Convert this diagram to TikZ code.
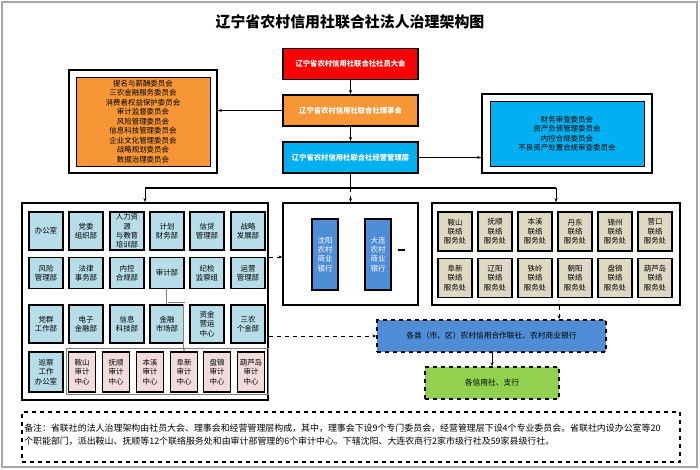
\documentclass[tikz,border=0pt]{standalone}
\usepackage{fontspec}
\setmainfont{Noto Sans CJK SC}
\usetikzlibrary{arrows.meta}
\definecolor{cRed}{RGB}{255,0,0}
\definecolor{cOrange}{RGB}{247,150,54}
\definecolor{cSky}{RGB}{0,176,240}
\definecolor{cDept}{RGB}{183,222,232}
\definecolor{cPink}{RGB}{242,220,219}
\definecolor{cBeige}{RGB}{221,217,195}
\definecolor{cBank}{RGB}{79,141,214}
\definecolor{cGreen}{RGB}{146,208,80}
\tikzset{
  topbox/.style={draw, line width=1.2pt, minimum width=101pt, minimum height=23.5pt, text=white, font=\fontsize{5.5}{6.5}\selectfont\bfseries},
  frame/.style={draw, line width=1.2pt, fill=white},
  dept/.style={draw, line width=1.2pt, fill=cDept, minimum width=25.5pt, inner sep=0pt, align=center, font=\fontsize{5.6}{7}\selectfont},
  audc/.style={draw, line width=0.8pt, fill=cPink, minimum width=20pt, minimum height=30pt, inner sep=0pt, align=center, font=\fontsize{5.6}{7}\selectfont},
  office/.style={draw, line width=1.2pt, fill=cBeige, minimum width=25.5pt, minimum height=29pt, inner sep=0pt, align=center, font=\fontsize{5.6}{7}\selectfont},
  bank/.style={draw, line width=1.2pt, fill=cBank, minimum width=19.5pt, minimum height=53pt, text=white, align=center, inner sep=0pt, font=\fontsize{5.6}{7}\selectfont},
  arr/.style={-{Stealth[length=3pt]}, line width=0.5pt},
  darr/.style={-{Stealth[length=3pt]}, line width=0.5pt, dashed},
}
\begin{document}
\begin{tikzpicture}[x=0.75pt,y=-0.75pt]
\useasboundingbox (0,0) rectangle (700,470);
\draw[gray!70, line width=1.5pt] (2,2) rectangle (697,467);

% title
\node (title) at (350,22) {\fontsize{11.2}{13}\selectfont\bfseries 辽宁省农村信用社联合社法人治理架构图};

% governance chain
\node[topbox, fill=cRed] (meet) at (350.5,64) {辽宁省农村信用社联合社社员大会};
\node[topbox, fill=cOrange] (board) at (350.5,110.5) {辽宁省农村信用社联合社理事会};
\node[topbox, fill=cSky] (mgmt) at (350.5,157.5) {辽宁省农村信用社联合社经营管理层};
\draw[arr] (meet) -- (board);
\draw[arr] (board) -- (mgmt);

% committees
\node[frame, minimum width=111pt, minimum height=77pt] (cmtframe) at (143,121.5) {};
\node[draw, fill=cOrange, minimum width=100.5pt, minimum height=67pt, align=center, inner sep=0pt,
  font=\fontsize{5.6}{7.1}\selectfont] (cmt) at (143,121.5)
  {提名与薪酬委员会\\三农金融服务委员会\\消费者权益保护委员会\\审计监督委员会\\风险管理委员会\\信息科技管理委员会\\企业文化管理委员会\\战略规划委员会\\数据治理委员会};
\node[frame, minimum width=127.5pt, minimum height=59pt] (rframe) at (567,133.5) {};
\node[draw, fill=cSky, minimum width=115.5pt, minimum height=49pt, align=center, inner sep=0pt,
  font=\fontsize{5.6}{7.1}\selectfont] (mcmt) at (567,133.5)
  {财务审查委员会\\资产负债管理委员会\\内控合规委员会\\不良资产处置合规审查委员会};
\draw[arr] (board.west) -- (cmtframe.east |- board.west);
\draw[arr] (mgmt.east) -- (rframe.west |- mgmt.east);

% lower frames
\node[frame, minimum width=184.5pt, minimum height=148pt] (deptframe) at (145,301.5) {};
\node[frame, minimum width=101pt, minimum height=76.5pt] (midframe) at (350.5,254) {};
\node[frame, minimum width=186pt, minimum height=76.5pt] (lsframe) at (556,254) {};
\coordinate (split) at (350.5,188);
\draw[line width=0.8pt] (mgmt.south) -- (split);
\draw[line width=0.8pt] (deptframe.north |- split) -- (lsframe.north |- split);
\draw[arr] (deptframe.north |- split) -- (deptframe.north);
\draw[darr] (split) -- (midframe.north);
\draw[arr] (lsframe.north |- split) -- (lsframe.north);

% departments
\foreach \n/\x/\t in {1/46/办公室, 2/86/{党委\\组织部}, 3/127/{人力资\\源\\与教育\\培训部}, 4/167/{计划\\财务部}, 5/207/{信贷\\管理部}, 6/248/{战略\\发展部}}
  \node[dept, minimum height=28.5pt] (da\n) at (\x,231) {\t};
\foreach \n/\x/\t in {1/46/{风险\\管理部}, 2/86/{法律\\事务部}, 3/127/{内控\\合规部}, 4/167/审计部, 5/207/{纪检\\监察组}, 6/248/{运营\\管理部}}
  \node[dept, minimum height=23pt] (db\n) at (\x,273) {\t};
\foreach \n/\x/\t in {1/46/{党群\\工作部}, 2/86/{电子\\金融部}, 3/127/{信息\\科技部}, 4/167/{金融\\市场部}, 5/207/{资金\\营运\\中心}, 6/248/{三农\\个金部}}
  \node[dept, minimum height=28.5pt] (dc\n) at (\x,324) {\t};
\node[dept, minimum height=30pt] (patrol) at (46,372) {巡察\\工作\\办公室};
\node[draw=gray, line width=0.8pt, minimum width=151pt, minimum height=35pt] (audframe) at (167.5,371.5) {};
\foreach \n/\x/\t in {1/82/鞍山, 2/116/抚顺, 3/150/本溪, 4/184/阜新, 5/217/盘锦, 6/251/葫芦岛}
  \node[audc] (ac\n) at (\x,372) {\t\\审计\\中心};
\draw[gray, double, line width=0.4pt, -{Stealth[length=3pt]}] (db4.south) -- ++(0,14) -| (ac4.north);

% city banks
\node[bank] (sybank) at (325,254.5) {沈阳\\农村\\商业\\银行};
\node[bank] (dlbank) at (378,254.5) {大连\\农村\\商业\\银行};
\draw[line width=0.8pt] (398,250) -- (405,250);

% liaison offices
\foreach \n/\x/\t in {1/455/鞍山, 2/495/抚顺, 3/535/本溪, 4/575/丹东, 5/615/锦州, 6/655/营口}
  \node[office] (la\n) at (\x,231.5) {\t\\联络\\服务处};
\foreach \n/\x/\t in {1/455/阜新, 2/495/辽阳, 3/535/铁岭, 4/575/朝阳, 5/615/盘锦, 6/655/葫芦岛}
  \node[office] (lb\n) at (\x,278) {\t\\联络\\服务处};

% county level
\node[draw, dashed, line width=1.2pt, fill=cBank, minimum width=171.5pt, minimum height=24pt,
  font=\fontsize{5.8}{7}\selectfont] (county) at (491.5,336) {各县（市、区）农村信用合作联社、农村商业银行};
\node[draw, dashed, line width=1.2pt, fill=cGreen, minimum width=100.5pt, minimum height=24pt,
  font=\fontsize{5.8}{7}\selectfont] (branch) at (492,383) {各信用社、支行};
\draw[darr] (deptframe.east |- 0,257) -- (midframe.west |- 0,257);
\draw[darr] (deptframe.east |- county.west) -- (county.west);
\draw[darr] (lsframe.south -| 559,0) -- (county.north -| 559,0);
\draw[arr] (county.south -| branch.north) -- (branch.north);

% note
\node[draw, dashed, line width=1pt, minimum width=493.5pt, minimum height=37.5pt] (noteframe) at (351,437) {};
\node[anchor=west, align=left, inner sep=0pt, font=\fontsize{6.7}{10}\selectfont] (note) at (24,435)
  {备注：省联社的法人治理架构由社员大会、理事会和经营管理层构成，其中，理事会下设9个专门委员会，经营管理层下设4个专业委员会。省联社内设办公室等20\\个职能部门，派出鞍山、抚顺等12个联络服务处和由审计部管理的6个审计中心。下辖沈阳、大连农商行2家市级行社及59家县级行社。};
\end{tikzpicture}
\end{document}
